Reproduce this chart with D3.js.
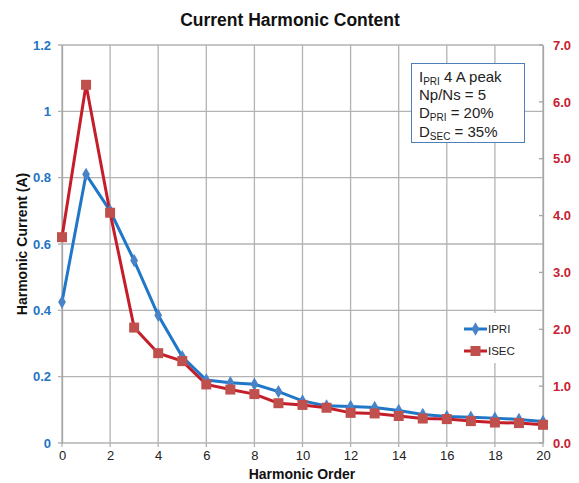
<!DOCTYPE html>
<html>
<head>
<meta charset="utf-8">
<script src="https://cdn.jsdelivr.net/npm/d3@7"></script>
<style>
  body { margin: 0; background: #fff; }
  text { font-family: "Liberation Sans", Arial, sans-serif; }
</style>
</head>
<body>
<svg id="chart" width="579" height="483"></svg>
<script>
// harmonic order 0..20
const orders = d3.range(0, 21);
const ipri = [0.425, 0.81, 0.70, 0.55, 0.385, 0.26, 0.19, 0.182, 0.177, 0.155, 0.127,
              0.112, 0.11, 0.107, 0.098, 0.086, 0.08, 0.078, 0.075, 0.071, 0.065];
const isec = [3.62, 6.30, 4.05, 2.03, 1.58, 1.44, 1.03, 0.94, 0.86, 0.70, 0.67,
              0.62, 0.53, 0.52, 0.475, 0.43, 0.42, 0.385, 0.36, 0.35, 0.32];
const leftTicks = [0, 0.2, 0.4, 0.6, 0.8, 1, 1.2];
const rightTicks = [0, 1, 2, 3, 4, 5, 6, 7];
const xTicks = d3.range(0, 21, 2);

const blue = "#1f74c4", red = "#c8202f";
const m = {left: 62, right: 36, top: 45, bottom: 40};
const W = 579, H = 483;
const svg = d3.select("#chart");

const x = d3.scaleLinear().domain([0, 20]).range([m.left, W - m.right]);
const yL = d3.scaleLinear().domain([0, 1.2]).range([H - m.bottom, m.top]);
const yR = d3.scaleLinear().domain([0, 7]).range([H - m.bottom, m.top]);

// grid
const grid = svg.append("g").attr("stroke", "#b3b3b3").attr("stroke-width", 1.3);
grid.selectAll(".h").data(leftTicks).join("line")
    .attr("x1", m.left - 4).attr("x2", x(20))
    .attr("y1", d => yL(d)).attr("y2", d => yL(d));
grid.selectAll(".v").data(xTicks).join("line")
    .attr("x1", d => x(d)).attr("x2", d => x(d))
    .attr("y1", m.top).attr("y2", yL(0) + 4);

// axes
svg.append("g").attr("transform", `translate(${m.left},0)`)
    .call(d3.axisLeft(yL).tickValues(leftTicks).tickSize(0).tickPadding(11)
        .tickFormat(d => d === 0 || d === 1 ? d3.format("d")(d) : d3.format(".1f")(d)))
    .call(g => g.select(".domain").attr("stroke", "#a6a6a6").attr("stroke-width", 1.3))
    .call(g => g.selectAll("text").attr("fill", blue).attr("font-weight", "bold")
        .attr("font-size", 13).attr("font-family", "Liberation Sans, Arial, sans-serif"));

svg.append("g").attr("transform", `translate(${x(20)},0)`)
    .call(d3.axisRight(yR).tickValues(rightTicks).tickSize(0).tickPadding(10)
        .tickFormat(d3.format(".1f")))
    .call(g => g.select(".domain").attr("stroke", "#a6a6a6").attr("stroke-width", 1.3))
    .call(g => g.selectAll("text").attr("fill", red).attr("font-weight", "bold")
        .attr("font-size", 13).attr("font-family", "Liberation Sans, Arial, sans-serif"));
svg.append("g").selectAll("line").data(rightTicks).join("line")
    .attr("x1", x(20) - 4).attr("x2", x(20))
    .attr("y1", d => yR(d)).attr("y2", d => yR(d))
    .attr("stroke", "#a6a6a6").attr("stroke-width", 1.3);

svg.append("g").attr("transform", `translate(0,${yL(0)})`)
    .call(d3.axisBottom(x).tickValues(xTicks).tickSize(0).tickPadding(8))
    .call(g => g.select(".domain").remove())
    .call(g => g.selectAll("text").attr("fill", "#222").attr("font-size", 13)
        .attr("font-family", "Liberation Sans, Arial, sans-serif"));

// labels
svg.append("text").attr("x", 290).attr("y", 26).attr("text-anchor", "middle")
    .attr("font-size", 17.5).attr("font-weight", "bold").attr("fill", "#111")
    .text("Current Harmonic Content");
svg.append("text").attr("x", 302).attr("y", 479).attr("text-anchor", "middle")
    .attr("font-size", 14).attr("font-weight", "bold").attr("fill", "#111")
    .text("Harmonic Order");
svg.append("text").attr("transform", `translate(27,${(m.top + yL(0)) / 2}) rotate(-90)`)
    .attr("text-anchor", "middle")
    .attr("font-size", 14).attr("font-weight", "bold").attr("fill", "#111")
    .text("Harmonic Current (A)");

// series
const lineL = d3.line().x((d, i) => x(orders[i])).y(d => yL(d));
const lineR = d3.line().x((d, i) => x(orders[i])).y(d => yR(d));

svg.append("path").datum(ipri).attr("d", lineL)
    .attr("fill", "none").attr("stroke", "#1f77c8").attr("stroke-width", 3);
svg.append("path").datum(isec).attr("d", lineR)
    .attr("fill", "none").attr("stroke", "#c41e2a").attr("stroke-width", 3);

const diamond = d3.symbol().type(d3.symbolDiamond).size(52);
svg.append("g").selectAll("path").data(ipri).join("path")
    .attr("transform", (d, i) => `translate(${x(orders[i])},${yL(d)})`)
    .attr("d", diamond).attr("fill", "#4a82c8");
svg.append("g").selectAll("rect").data(isec).join("rect")
    .attr("x", (d, i) => x(orders[i]) - 5).attr("y", d => yR(d) - 5)
    .attr("width", 10).attr("height", 10).attr("fill", "#c0504d");

// legend
const lg = svg.append("g");
lg.append("rect").attr("x", 458).attr("y", 313).attr("width", 78).attr("height", 50).attr("fill", "#fff");
[["IPRI", 329, "#1f77c8"], ["ISEC", 351, "#c41e2a"]].forEach(([name, ly, c], k) => {
  lg.append("line").attr("x1", 464).attr("x2", 487).attr("y1", ly).attr("y2", ly)
    .attr("stroke", c).attr("stroke-width", 3);
  if (k === 0) lg.append("path").attr("transform", `translate(475.5,${ly})`).attr("d", diamond).attr("fill", "#4a82c8");
  else lg.append("rect").attr("x", 470.5).attr("y", ly - 5).attr("width", 10).attr("height", 10).attr("fill", "#c0504d");
  lg.append("text").attr("x", 488).attr("y", ly + 4).attr("font-size", 11.5)
    .attr("font-family", "Liberation Sans, Arial, sans-serif").attr("fill", "#222").text(name);
});

// annotation box
const ab = svg.append("g");
ab.append("rect").attr("x", 411.5).attr("y", 63.5).attr("width", 113).attr("height", 79)
    .attr("fill", "#fff").attr("stroke", "#4f7fb8").attr("stroke-width", 1);
const notes = [
  [["I", ""], ["PRI", "sub"], [" 4 A peak", ""]],
  [["Np/Ns = 5", ""]],
  [["D", ""], ["PRI", "sub"], [" = 20%", ""]],
  [["D", ""], ["SEC", "sub"], [" = 35%", ""]]
];
notes.forEach((parts, k) => {
  const t = ab.append("text").attr("x", 419).attr("y", 82 + k * 18.2)
      .attr("font-size", 15).attr("fill", "#222");
  parts.forEach(([s, kind]) => {
    const sp = t.append("tspan").text(s);
    if (kind === "sub") sp.attr("font-size", 10).attr("dy", 3);
    else if (t.selectAll("tspan").size() > 1) sp.attr("dy", -3);
  });
});
</script>
</body>
</html>
